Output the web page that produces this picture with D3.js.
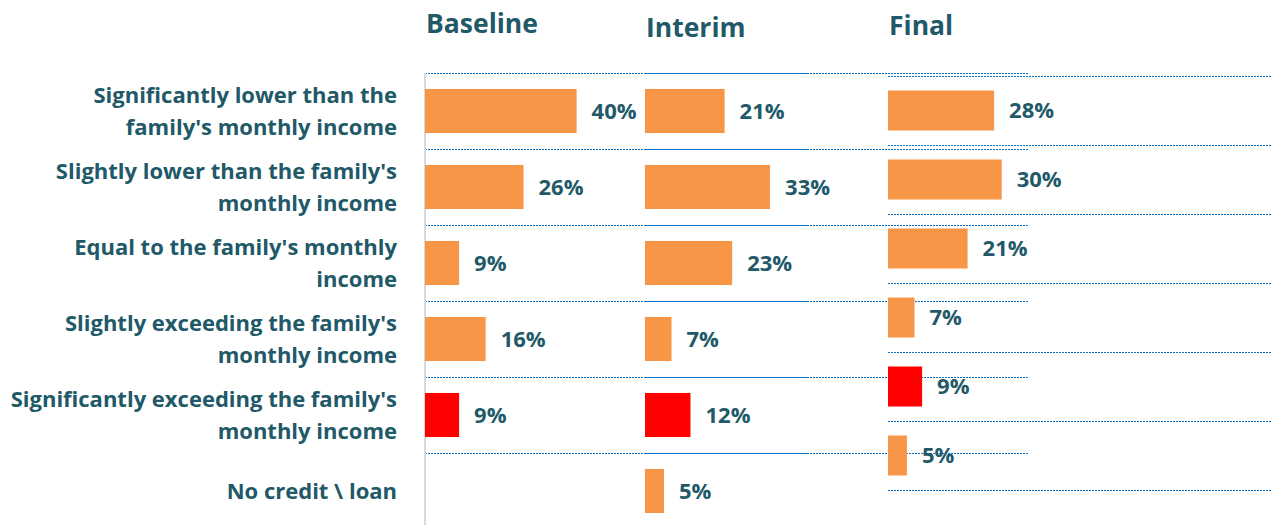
<!DOCTYPE html>
<html>
<head>
<meta charset="utf-8">
<script src="https://cdn.jsdelivr.net/npm/d3@7"></script>
<style>
  body { margin: 0; background: #fff; }
  svg { display: block; font-family: "Open Sans", Lato, sans-serif; font-weight: bold; }
  .grid line { stroke: #0b72c8; stroke-width: 1; stroke-dasharray: 2, 1; }
  .lbl { fill: #215968; }
</style>
</head>
<body>
<svg width="1272" height="525"></svg>
<script>
let categories = [
    ["Significantly lower than the", "family's monthly income"],
    ["Slightly lower than the family's", "monthly income"],
    ["Equal to the family's monthly", "income"],
    ["Slightly exceeding the family's", "monthly income"],
    ["Significantly exceeding the family's", "monthly income"],
    ["No credit \\ loan"]
];
let panels = ["Baseline", "Interim", "Final"];
let baseline = [40, 26, 9, 16, 9, null];
let interim = [21, 33, 23, 7, 12, 5];
let final = [28, 30, 21, 7, 9, 5];
let highlight = [false, false, false, false, true, false];

let svg = d3.select("svg"),
    width = +svg.attr("width"),
    height = +svg.attr("height");

let orange = "#f79646", red = "#ff0000";

// layout of each panel: left edge, band range, header baseline
let layout = [
    { x0: 425, top: 73, bottom: 529, head: 33, data: baseline },
    { x0: 645, top: 73, bottom: 529, head: 37, data: interim },
    { x0: 888, top: 76, bottom: 490, head: 35, data: final }
];
let plotW = 379, gridW = 383;

let idx = d3.range(categories.length);

layout.forEach((p, pi) => {
    let x = d3.scaleLinear().domain([0, 100]).range([p.x0, p.x0 + plotW]);
    let y = d3.scaleBand().domain(idx).range([p.top, p.bottom])
        .paddingInner(0.42).paddingOuter(0.21);
    let step = y.step();

    let g = svg.append("g").attr("class", "panel");

    // dotted gridlines at band boundaries
    g.append("g").attr("class", "grid")
        .selectAll("line")
        .data(d3.range(categories.length + 1))
        .enter().append("line")
            .attr("x1", p.x0)
            .attr("x2", p.x0 + gridW)
            .attr("y1", i => Math.round(p.top + i * step) + 0.5)
            .attr("y2", i => Math.round(p.top + i * step) + 0.5);

    if (pi === 0) {
        g.append("line")
            .attr("x1", x(0)).attr("x2", x(0))
            .attr("y1", p.top).attr("y2", height)
            .attr("stroke", "#d9d9d9").attr("stroke-width", 2);
    }

    let rows = idx.filter(i => p.data[i] != null);

    g.selectAll("rect")
        .data(rows)
        .enter().append("rect")
            .attr("x", x(0))
            .attr("y", i => y(i))
            .attr("width", i => x(p.data[i]) - x(0))
            .attr("height", y.bandwidth())
            .attr("fill", i => highlight[i] ? red : orange);

    g.selectAll("text.val")
        .data(rows)
        .enter().append("text")
            .attr("class", "val lbl")
            .attr("x", i => x(p.data[i]) + 15)
            .attr("y", i => y(i) + y.bandwidth() / 2)
            .attr("dy", "0.36em")
            .attr("font-size", 22)
            .text(i => p.data[i] + "%");

    svg.append("text")
        .attr("class", "lbl")
        .attr("x", p.x0 + 1)
        .attr("y", p.head)
        .attr("font-size", 26.5)
        .text(panels[pi]);
});

// category labels, following the baseline bands
let yCat = d3.scaleBand().domain(idx).range([73, 529]);
let lineH = 32, catSize = 22;

svg.append("g")
    .selectAll("text")
    .data(idx)
    .enter().append("text")
        .attr("class", "lbl")
        .attr("text-anchor", "end")
        .attr("font-size", catSize)
        .attr("x", 397)
        .attr("y", i => yCat(i) + yCat.bandwidth() / 2)
        .each(function (i) {
            let lines = categories[i];
            let t = d3.select(this);
            lines.forEach((s, k) => {
                t.append("tspan")
                    .attr("x", 397)
                    .attr("dy", k === 0 ? ((-(lines.length - 1) * lineH / 2) / catSize + 0.36) + "em" : lineH + "px")
                    .text(s);
            });
        });
</script>
</body>
</html>
